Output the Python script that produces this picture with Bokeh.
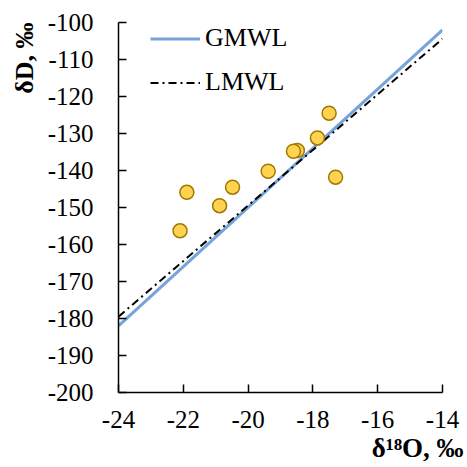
from bokeh.plotting import figure
from bokeh.models import Range1d, Legend, LegendItem, FixedTicker, Title
from bokeh.embed import file_html
from bokeh.resources import INLINE

# ---- data ----
d18o = [-21.89, -20.48, -20.88, -22.10, -17.50, -17.86, -18.48, -18.60, -17.30, -19.38]
dD = [-145.9, -144.5, -149.5, -156.3, -124.5, -131.2, -134.6, -134.8, -141.8, -140.2]

gmwl_x = [-24, -14]
gmwl_y = [-182, -102]
lmwl_x = [-24, -14]
lmwl_y = [-179.5, -104.4]

x_ticks = [-24, -22, -20, -18, -16, -14]
x_tick_labels = ["-24", "-22", "-20", "-18", "-16", "-14"]
y_ticks = [-200, -190, -180, -170, -160, -150, -140, -130, -120, -110, -100]
y_tick_labels = ["-200", "-190", "-180", "-170", "-160", "-150", "-140", "-130", "-120", "-110", "-100"]

x_title = "δ¹⁸O, ‰"
y_title = "δD, ‰"
series_names = ["GMWL", "LMWL"]

FONT = "Liberation Serif"

p = figure(width=467, height=467, x_range=Range1d(-24, -14), y_range=Range1d(-200, -100),
           output_backend="svg", toolbar_location=None,
           min_border_left=118, min_border_right=25, min_border_top=22, min_border_bottom=75)
p.outline_line_color = None
p.xgrid.visible = False
p.ygrid.visible = False
p.background_fill_color = "white"
p.border_fill_color = "white"

for ax, ticks, labels in ((p.xaxis[0], x_ticks, x_tick_labels), (p.yaxis[0], y_ticks, y_tick_labels)):
    ax.ticker = FixedTicker(ticks=ticks)
    ax.major_label_overrides = {t: l for t, l in zip(ticks, labels)}
    ax.minor_tick_line_color = None
    ax.major_tick_in = 8
    ax.major_tick_out = 0
    ax.axis_line_width = 1.5
    ax.axis_line_color = "black"
    ax.major_tick_line_width = 1.5
    ax.major_tick_line_color = "black"
    ax.major_label_text_font = FONT
    ax.major_label_text_font_size = "25px"
    ax.major_label_text_color = "black"

p.xaxis[0].major_label_standoff = 18
p.yaxis[0].major_label_standoff = 25

r_g = p.line(gmwl_x, gmwl_y, line_color="#77A3DB", line_width=3)
r_l = p.line(lmwl_x, lmwl_y, line_color="black", line_width=2, line_dash="8 4 2 4")
p.scatter(d18o, dD, marker="circle", size=14, fill_color="#FFD34F", line_color="#A07800", line_width=1.5)

legend = Legend(items=[LegendItem(label=series_names[0], renderers=[r_g]),
                       LegendItem(label=series_names[1], renderers=[r_l])],
                location=(32, 295), margin=0, padding=0, spacing=14,
                glyph_width=50, glyph_height=27, label_height=27, label_standoff=5,
                label_text_font=FONT, label_text_font_size="26px", label_text_color="black",
                border_line_color=None, background_fill_alpha=0)
p.add_layout(legend)

p.add_layout(Title(text=y_title, align="right", standoff=12, offset=0,
                   text_font=FONT, text_font_style="bold", text_font_size="26px",
                   text_color="black"), "left")
p.add_layout(Title(text=x_title, align="right", standoff=0, offset=-21,
                   text_font=FONT, text_font_style="bold", text_font_size="27px",
                   text_color="black"), "below")

open("out.html", "w").write(file_html(p, INLINE))
